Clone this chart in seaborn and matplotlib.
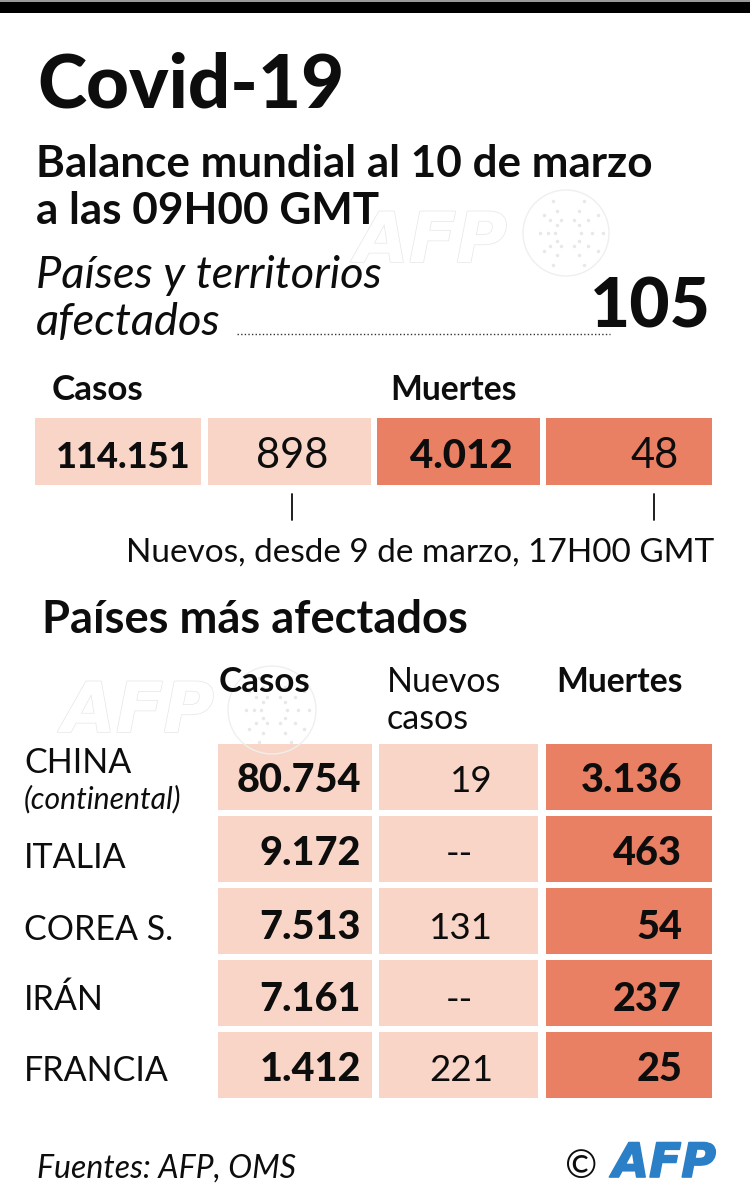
import matplotlib
matplotlib.use("Agg")
import matplotlib.pyplot as plt
import matplotlib.patheffects as pe
from matplotlib.colors import ListedColormap
import numpy as np
import seaborn as sns

sns.set_theme(style="white")
plt.rcParams['font.family'] = ['Lato', 'DejaVu Sans']

INK = "#0d0d0d"
LIGHT = "#f8d5c6"
DARK = "#e97f63"

title = "Covid-19"
subtitle = ["Balance mundial al 10 de marzo", "a las 09H00 GMT"]
territories_label = ["Países y territorios", "afectados"]
territories = "105"

global_values = ["114.151", "898", "4.012", "48"]
global_groups = [0, 0, 1, 1]

countries = ["ITALIA", "COREA S.", "IRÁN", "FRANCIA"]
casos = ["80.754", "9.172", "7.513", "7.161", "1.412"]
nuevos = ["19", "--", "131", "--", "221"]
muertes = ["3.136", "463", "54", "237", "25"]

W, H = 750, 1200
fig = plt.figure(figsize=(7.5, 12), dpi=100, facecolor="white")

def panel(l, t, r, b):
    return fig.add_axes([l / W, 1 - b / H, (r - l) / W, (b - t) / H])

cmap = ListedColormap([LIGHT, DARK])

def cells(ax, groups):
    sns.heatmap(np.array(groups), ax=ax, cmap=cmap, vmin=0, vmax=1, cbar=False,
                xticklabels=False, yticklabels=False, linewidths=0)
    ax.tick_params(left=False, bottom=False)

# overlay canvas in pixel units
bg = fig.add_axes([0, 0, 1, 1], zorder=5)
bg.set_xlim(0, W)
bg.set_ylim(H, 0)
bg.axis("off")
bg.patch.set_alpha(0)

def T(x, y, s, size, weight="normal", style="normal", ha="left", color=INK, **k):
    return bg.text(x, y, s, fontsize=size, fontweight=weight, fontstyle=style,
                   ha=ha, va="baseline", color=color, **k)

# top rule
bg.axhspan(0, 2, color="#9a9a9a", lw=0)
bg.axhspan(2, 13, color="black", lw=0)

# watermarks
def watermark(x, y, bx, by, r):
    t = T(x, y, "AFP", 50, "bold", "italic", color="white", family="DejaVu Sans", zorder=1)
    t.set_path_effects([pe.withStroke(linewidth=1, foreground="#e6e6e6")])
    bg.add_patch(plt.Circle((bx, by), r, fc="none", ec="#efefef", lw=1, zorder=1))
    for a in np.arange(-60, 61, 30):
        for f in (0.35, 0.6, 0.85):
            px = bx + r * f * np.cos(np.radians(a))
            py = by + r * f * np.sin(np.radians(a))
            bg.plot(px, py, marker=".", ms=3, color="#e8e8e8", zorder=1)
            bg.plot(bx - (px - bx) * 0.7, py, marker=".", ms=3, color="#e8e8e8", zorder=1)

watermark(355, 262, 566, 233, 43)
watermark(62, 732, 272, 710, 44)

T(37, 107, title, 53.6, "black")
T(36, 177, subtitle[0], 31.7, "bold")
T(36, 224, subtitle[1], 31.7, "bold")
T(36, 288, territories_label[0], 32.6, style="italic")
T(36, 335, territories_label[1], 32.6, style="italic")
bg.plot([237, 610], [334, 334], color="#333333", lw=1, ls=(0, (1, 1.6)))
T(711, 328, territories, 50, "black", ha="right")

T(52, 400, "Casos", 25.2, "bold")
T(390, 400, "Muertes", 24.2, "bold")

# global summary cells
top_edges = [(35, 201), (208, 371), (377, 540), (546, 712)]
for (l, r), g in zip(top_edges, global_groups):
    cells(panel(l, 418, r, 485), [[g]])
top_right = [190, 328, 513, 679]
top_weight = ["black", "normal", "black", "normal"]
top_size = [26, 30, 29, 30]
for x, s, w, z in zip(top_right, global_values, top_weight, top_size):
    T(x, 468, s, z, w, ha="right")

for x in (292, 654):
    bg.plot([x, x], [494, 520], color=INK, lw=1.3)
T(714, 562, "Nuevos, desde 9 de marzo, 17H00 GMT", 24, ha="right")
T(42, 633, "Países más afectados", 32.6, "bold")

# headers
T(219, 692, "Casos", 25.2, "bold")
T(387, 692, "Nuevos", 24.5)
T(387, 729, "casos", 24.5)
T(556, 692, "Muertes", 24.2, "bold")

# country table: one heatmap per column
col_edges = [(218, 372), (379, 538), (546, 712)]
col_groups = [0, 0, 1]
for (l, r), g in zip(col_edges, col_groups):
    ax = panel(l, 741, r, 1101)
    cells(ax, [[g]] * len(casos))
    ax.hlines(range(0, len(casos) + 1), 0, 1, color="white", lw=4.32)

T(24, 773, "CHINA", 24.5)
T(24, 808, "(continental)", 21.7, style="italic")
for y, c in zip([868, 940, 1010, 1081], countries):
    T(24, y, c, 24.5)

row_y = [792, 865, 939, 1011, 1081]
for y, a, b, c in zip(row_y, casos, nuevos, muertes):
    T(361, y, a, 28.5, "black", ha="right")
    T(493 if b != "--" else 473, y, b, 26.5, ha="right")
    T(682, y, c, 28.5, "black", ha="right")

T(37, 1178, "Fuentes: AFP, OMS", 23, style="italic")
T(565, 1178, "©", 28)
logo = T(716, 1177, "AFP", 34, "bold", "italic", ha="right", color="#2b7fc7", family="DejaVu Sans")
logo.set_path_effects([pe.withStroke(linewidth=1.2, foreground="#2b7fc7")])

fig.savefig("out.png", dpi=100)
